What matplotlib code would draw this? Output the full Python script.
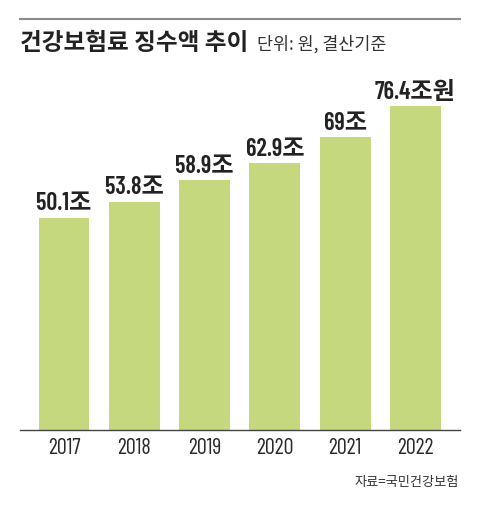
import matplotlib.pyplot as plt
from matplotlib.lines import Line2D

years = ['2017', '2018', '2019', '2020', '2021', '2022']
values = [50.1, 53.8, 58.9, 62.9, 69.0, 76.4]
labels = ['50.1조', '53.8조', '58.9조', '62.9조', '69조', '76.4조원']

W, H = 480, 510
lbl_font = ['Barlow Condensed', 'Noto Sans CJK KR', 'DejaVu Sans']
yr_font = ['Barlow Condensed', 'DejaVu Sans']
plt.rcParams['font.family'] = ['Noto Sans CJK KR', 'DejaVu Sans']

fig = plt.figure(figsize=(W / 100, H / 100), dpi=100)

# axes placed in pixel terms: x 20..460, baseline at y=431, top at y=100
base_y, top_y = 431, 100
ax = fig.add_axes([20 / W, (H - base_y) / H, 440 / W, (base_y - top_y) / H])
px_per_unit = 4.24
ax.set_ylim(0, (base_y - top_y) / px_per_unit)
ax.set_xlim(-0.626, 5.633)

x = list(range(len(years)))
ax.bar(x, values, width=0.725, color='#c6d87e', zorder=2)

for xi, v, lb in zip(x, values, labels):
    ax.text(xi, v + 2.0, lb, ha='center', va='baseline', fontsize=17.5,
            fontweight=600, family=lbl_font, color='#222222')

for s in ['top', 'right', 'left']:
    ax.spines[s].set_visible(False)
ax.spines['bottom'].set_color('#444444')
ax.spines['bottom'].set_linewidth(1.0)
ax.set_yticks([])
ax.set_xticks(x)
ax.set_xticklabels(years, fontsize=16, family=yr_font, color='#2a2a2a')
ax.tick_params(axis='x', length=0, pad=5)

# top rule
fig.add_artist(Line2D([20 / W, 460 / W], [1 - 20 / H, 1 - 20 / H],
                      color='#8a8a8a', lw=1.5))

fig.text(20 / W, 1 - 43 / H, '건강보험료 징수액 추이', fontsize=17,
         fontweight='bold', va='center', ha='left', color='#222222')
fig.text(257 / W, 1 - 44 / H, '단위: 원, 결산기준', fontsize=12.5,
         va='center', ha='left', color='#333333')
fig.text(459 / W, 1 - 483 / H, '자료=국민건강보험', fontsize=9.5,
         va='center', ha='right', color='#333333')

fig.savefig('out.png', dpi=100)
